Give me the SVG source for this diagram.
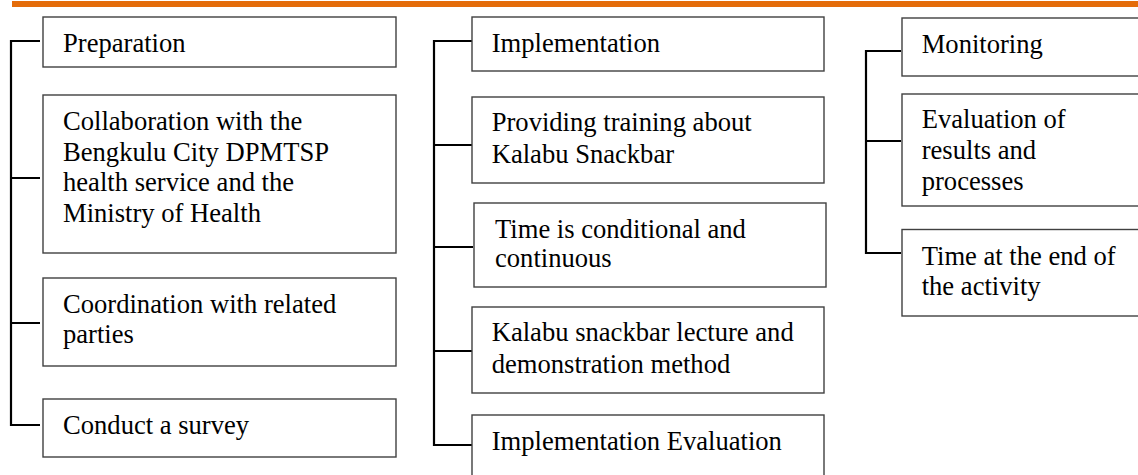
<svg xmlns="http://www.w3.org/2000/svg" width="1138" height="475" viewBox="0 0 1138 475">
  <style>
    .box { fill: #ffffff; stroke: #404040; stroke-width: 1.4; }
    .lbl { font-family: "Liberation Serif", "Times New Roman", serif; font-size: 26.6px; fill: #000000; }
    .conn { fill: none; stroke: #000000; stroke-width: 2.2; }
  </style>
  <rect width="1138" height="475" fill="#ffffff"/>
  <!-- header rule -->
  <rect x="12" y="1" width="1126" height="6" fill="#e46c0a"/>

  <!-- bracket connectors -->
  <g id="connectors">
    <path class="conn" d="M40,41 H11 V425 H40 M11,178 H40 M11,323 H40"/>
    <path class="conn" d="M472,41 H434 V445 H472 M434,145 H472 M434,247 H473 M434,351 H472"/>
    <path class="conn" d="M901,51 H866 V253 H901 M866,141 H901"/>
  </g>

  <!-- Preparation column -->
  <g id="preparation">
    <rect class="box" x="43" y="17" width="353" height="50"/>
    <text class="lbl" x="63" y="52">Preparation</text>
  </g>
  <g id="collaboration">
    <rect class="box" x="43" y="95" width="353" height="158"/>
    <text class="lbl" x="63" y="130">Collaboration with the</text>
    <text class="lbl" x="63" y="160.7">Bengkulu City DPMTSP</text>
    <text class="lbl" x="63" y="191.3">health service and the</text>
    <text class="lbl" x="63" y="222">Ministry of Health</text>
  </g>
  <g id="coordination">
    <rect class="box" x="43" y="278" width="353" height="88"/>
    <text class="lbl" x="63" y="313">Coordination with related</text>
    <text class="lbl" x="63" y="343">parties</text>
  </g>
  <g id="survey">
    <rect class="box" x="43" y="399" width="353" height="58"/>
    <text class="lbl" x="63" y="434">Conduct a survey</text>
  </g>

  <!-- Implementation column -->
  <g id="implementation">
    <rect class="box" x="472" y="17" width="352" height="54"/>
    <text class="lbl" x="491.7" y="52">Implementation</text>
  </g>
  <g id="training">
    <rect class="box" x="472" y="97" width="352" height="86"/>
    <text class="lbl" x="491.7" y="131">Providing training about</text>
    <text class="lbl" x="491.7" y="162.7">Kalabu Snackbar</text>
  </g>
  <g id="time-conditional">
    <rect class="box" x="474" y="203" width="352" height="84"/>
    <text class="lbl" x="495" y="238.3">Time is conditional and</text>
    <text class="lbl" x="495" y="266.7">continuous</text>
  </g>
  <g id="lecture">
    <rect class="box" x="472" y="307" width="352" height="86"/>
    <text class="lbl" x="491.7" y="341">Kalabu snackbar lecture and</text>
    <text class="lbl" x="491.7" y="372.7">demonstration method</text>
  </g>
  <g id="implementation-evaluation">
    <rect class="box" x="472" y="415" width="352" height="80"/>
    <text class="lbl" x="491.7" y="450">Implementation Evaluation</text>
  </g>

  <!-- Monitoring column -->
  <g id="monitoring">
    <rect class="box" x="902" y="18" width="260" height="58"/>
    <text class="lbl" x="921.7" y="53.3">Monitoring</text>
  </g>
  <g id="evaluation">
    <rect class="box" x="902" y="94" width="260" height="112"/>
    <text class="lbl" x="921.7" y="128.3">Evaluation of</text>
    <text class="lbl" x="921.7" y="159.3">results and</text>
    <text class="lbl" x="921.7" y="190">processes</text>
  </g>
  <g id="time-end">
    <rect class="box" x="902" y="229.5" width="260" height="86.5"/>
    <text class="lbl" x="921.7" y="265">Time at the end of</text>
    <text class="lbl" x="921.7" y="295">the activity</text>
  </g>
</svg>
